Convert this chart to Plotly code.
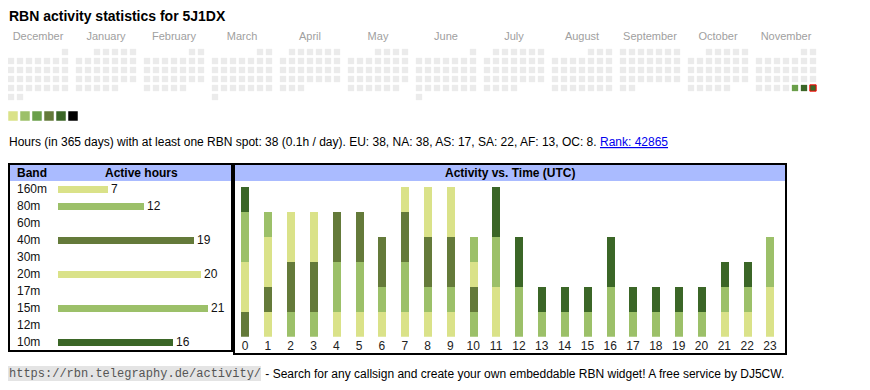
import datetime as dt
import plotly.graph_objects as go

# page body has an 8px default margin: figure origin sits at page (8, 8)
OX, OY = 8, 8
W, H = 862, 382

# ---------------- data ----------------
callsign = "5J1DX"
months = ["December", "January", "February", "March", "April", "May", "June",
          "July", "August", "September", "October", "November"]
period_start = "2024-12-01"
period_end = "2025-11-30"
active_dates = ["2025-11-28", "2025-11-29", "2025-11-30"]
active_levels = [3, 5, 5]          # colour level (1..6) of each active day
palette = ["#dae289", "#9cc069", "#6a9f4a", "#647a3a", "#3b6627", "#000000"]

bands = ["160m", "80m", "60m", "40m", "30m", "20m", "17m", "15m", "12m", "10m"]
band_hours = [7, 12, 0, 19, 0, 20, 0, 21, 0, 16]
band_colors = ["#dae289", "#9cc069", "#9cc069", "#647a3a", "#647a3a",
               "#dae289", "#dae289", "#9cc069", "#9cc069", "#3b6627"]

hours = list(range(24))
hourly = {
    "160m": [0, 1, 0, 0, 1, 1, 1, 1, 1, 1, 0, 0, 0, 0, 0, 0, 0, 0, 0, 0, 0, 0, 0, 0],
    "80m":  [0, 0, 1, 1, 2, 2, 1, 2, 1, 1, 1, 0, 0, 0, 0, 0, 0, 0, 0, 0, 0, 0, 0, 0],
    "40m":  [1, 1, 2, 2, 2, 2, 2, 2, 2, 2, 1, 0, 0, 0, 0, 0, 0, 0, 0, 0, 0, 0, 0, 0],
    "20m":  [2, 2, 2, 2, 0, 0, 0, 1, 2, 2, 1, 2, 0, 0, 0, 0, 0, 0, 0, 0, 0, 1, 1, 2],
    "15m":  [2, 1, 0, 0, 0, 0, 0, 0, 0, 0, 1, 2, 2, 1, 1, 1, 2, 1, 1, 1, 1, 1, 1, 2],
    "10m":  [1, 0, 0, 0, 0, 0, 0, 0, 0, 0, 0, 2, 2, 1, 1, 1, 2, 1, 1, 1, 1, 1, 1, 0],
}

total_hours = 38
per_day = 0.1
continents = ["EU", "NA", "AS", "SA", "AF", "OC"]
continent_hours = [38, 38, 17, 22, 13, 8]
rank = 42865
url = "https://rbn.telegraphy.de/activity/"
footer_text = " - Search for any callsign and create your own embeddable RBN widget! A free service by DJ5CW."

# ---------------- helpers (page pixels -> paper) ----------------
def xp(px):
    return (px - OX) / W

def yp(py):
    return 1 - (py - OY) / H

FONT = "Liberation Sans, Arial, sans-serif"
BLOCK = 68 / 9  # month block pitch in cell units

fig = go.Figure()

# ---------------- calendar ----------------
d0 = dt.date.fromisoformat(period_start)
d1 = dt.date.fromisoformat(period_end)
act = {dt.date.fromisoformat(s): lv for s, lv in zip(active_dates, active_levels)}
cx, cy, cc, lw, lc = [], [], [], [], []
d = d0
while d <= d1:
    m = (d.year - d0.year) * 12 + d.month - d0.month
    first_wd = dt.date(d.year, d.month, 1).weekday()
    row = (d.day - 1 + first_wd) // 7
    cx.append(m * BLOCK + d.weekday())
    cy.append(row)
    cc.append(palette[act[d] - 1] if d in act else "#ebebeb")
    lw.append(1 if d == d1 else 0)
    lc.append("#ff0000" if d == d1 else "rgba(0,0,0,0)")
    d += dt.timedelta(days=1)

fig.add_trace(go.Scatter(
    x=cx, y=cy, mode="markers", xaxis="x4", yaxis="y4",
    marker=dict(symbol="square", size=6.3, color=cc, line=dict(width=lw, color=lc)),
    hoverinfo="skip", showlegend=False))

# legend squares
fig.add_trace(go.Scatter(
    x=list(range(len(palette))), y=[0] * len(palette), mode="markers",
    xaxis="x5", yaxis="y5",
    marker=dict(symbol="square", size=9.5, color=palette, line=dict(width=0)),
    hoverinfo="skip", showlegend=False))

# ---------------- band table ----------------
fig.add_trace(go.Bar(
    x=band_hours, y=list(range(len(bands))), orientation="h",
    xaxis="x2", yaxis="y2", width=0.4,
    marker=dict(color=band_colors, line=dict(width=0)),
    text=[str(v) if v > 0 else "" for v in band_hours],
    textposition="outside", constraintext="none", cliponaxis=False,
    textfont=dict(family=FONT, size=12, color="#111"),
    hoverinfo="skip", showlegend=False))

# ---------------- activity vs time ----------------
for b in ["160m", "80m", "40m", "20m", "15m", "10m"]:
    fig.add_trace(go.Bar(
        x=hours, y=hourly[b], xaxis="x3", yaxis="y3", width=0.35,
        marker=dict(color=band_colors[bands.index(b)], line=dict(width=0)),
        name=b, hoverinfo="skip", showlegend=False))

hidden = dict(showgrid=False, zeroline=False, showticklabels=False, ticks="",
              showline=False, fixedrange=True)

fig.update_layout(
    # calendar: 1 unit = 9 px, first cell centre at page x 11, row 0 at page y 52
    xaxis4=dict(domain=[xp(8), xp(821)], range=[-1 / 3, 90], anchor="y4",
                showgrid=False, zeroline=False, showline=False, ticks="",
                side="top", tickmode="array",
                tickvals=[i * BLOCK + 3 for i in range(len(months))],
                ticktext=months, tickfont=dict(family=FONT, size=11, color="#a0a0a0")),
    yaxis4=dict(domain=[yp(106), yp(43)], range=[6, -1], anchor="x4", **hidden),
    xaxis5=dict(domain=[xp(8), xp(79)], range=[-5 / 12, 5.5], anchor="y5", **hidden),
    yaxis5=dict(domain=[yp(122), yp(110)], range=[-0.5, 0.5], anchor="x5", **hidden),
    xaxis2=dict(domain=[xp(58), xp(228)], range=[0, 170 / 7.16], anchor="y2", **hidden),
    yaxis2=dict(domain=[yp(350.8), yp(180.8)], range=[len(bands) - 0.5, -0.5],
                anchor="x2", **hidden),
    xaxis3=dict(domain=[xp(233.6), xp(781.4)], range=[-0.5, 23.5], anchor="y3",
                showgrid=False, zeroline=False, showline=False, ticks="",
                tickmode="array", tickvals=hours, ticktext=[str(h) for h in hours],
                tickfont=dict(family=FONT, size=12, color="#222")),
    yaxis3=dict(domain=[yp(336.7), yp(186.7)], range=[0, 6], anchor="x3", **hidden),
    xaxis=dict(visible=False), yaxis=dict(visible=False),
)

# ---------------- frames ----------------
shapes = [
    dict(type="rect", xref="paper", yref="paper", x0=xp(10), x1=xp(231), y0=yp(181), y1=yp(165),
         fillcolor="#aabbff", line=dict(width=0), layer="below"),
    dict(type="rect", xref="paper", yref="paper", x0=xp(235), x1=xp(785), y0=yp(181), y1=yp(165),
         fillcolor="#aabbff", line=dict(width=0), layer="below"),
    dict(type="rect", xref="paper", yref="paper", x0=xp(9), x1=xp(232), y0=yp(351), y1=yp(164),
         line=dict(width=2, color="#000")),
    dict(type="rect", xref="paper", yref="paper", x0=xp(234), x1=xp(786), y0=yp(354), y1=yp(164),
         line=dict(width=2, color="#000")),
    dict(type="rect", xref="paper", yref="paper", x0=xp(8), x1=xp(261), y0=yp(381), y1=yp(366),
         fillcolor="#e4e4e4", line=dict(width=0), layer="below"),
]

ann = []
def text(px, py, s, size=12, bold=False, anchor="left", color="#000", family=FONT):
    ann.append(dict(xref="paper", yref="paper", x=xp(px), y=yp(py), text=(f"<b>{s}</b>" if bold else s),
                    showarrow=False, xanchor=anchor, yanchor="middle",
                    font=dict(family=family, size=size, color=color)))

text(7, 16, f"RBN activity statistics for {callsign}", size=14, bold=True)
cont = ", ".join(f"{c}: {v}" for c, v in zip(continents, continent_hours))
summary = (f"Hours (in 365 days) with at least one RBN spot: {total_hours} ({per_day}h / day). "
           f"{cont}. <span style='color:#0000ee'><u>Rank: {rank}</u></span>")
text(7, 142, summary, size=12)
text(15, 173, "Band", size=12, bold=True)
text(141.5, 173, "Active hours", size=12, bold=True, anchor="center")
text(510, 173, "Activity vs. Time (UTC)", size=12, bold=True, anchor="center")
for i, b in enumerate(bands):
    ann.append(dict(xref="paper", yref="y2", x=xp(15), y=i, text=b, showarrow=False,
                    xanchor="left", yanchor="middle",
                    font=dict(family=FONT, size=12, color="#111")))
text(7, 374, url, size=12, color="#555", family="Liberation Mono, Courier New, monospace")
text(260, 374, footer_text, size=12)

fig.update_layout(
    width=W, height=H, margin=dict(l=0, r=0, t=0, b=0),
    paper_bgcolor="#fff", plot_bgcolor="rgba(0,0,0,0)",
    barmode="stack", bargap=0, showlegend=False,
    shapes=shapes, annotations=ann,
)

fig.write_html("out.html")
